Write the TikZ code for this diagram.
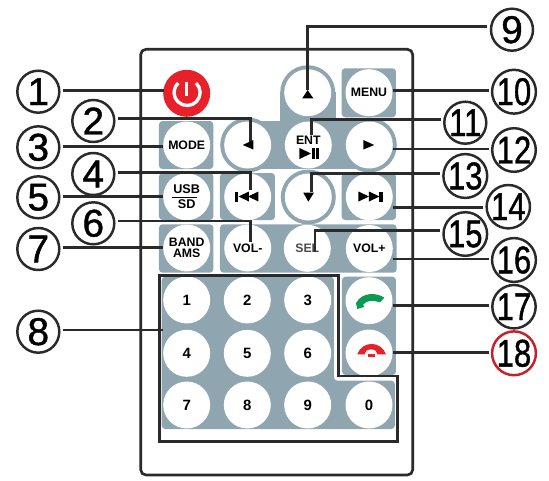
\documentclass[tikz,border=0pt]{standalone}
\usepackage{fontspec}
\setmainfont{Liberation Sans}
\newfontfamily\calloutfont[FakeBold=1.2]{Liberation Sans}
\definecolor{panelgrey}{HTML}{8FA5B0}
\definecolor{inkdark}{HTML}{2A2A2A}
\definecolor{powerred}{HTML}{E8202A}
\definecolor{ringred}{HTML}{C8202A}
\definecolor{callgreen}{HTML}{0A9A50}
\tikzset{
  leader/.style={inkdark, line width=1.45pt},
  callout/.style={circle, draw=inkdark, line width=1.4pt, minimum size=0.84cm, inner sep=0pt, outer sep=2pt, font=\calloutfont\fontsize{22}{22}\selectfont},
  panel/.style={fill=panelgrey, rounded corners=2pt},
  keybtn/.style={circle, fill=white, minimum size=0.94cm, inner sep=0pt, align=center, font=\fontsize{7}{6.2}\selectfont\bfseries},
  digitbtn/.style={keybtn, font=\fontsize{8.5}{8.5}\selectfont\bfseries},
  icon/.style={fill=black}
}
\begin{document}
\begin{tikzpicture}[x=0.02cm, y=-0.02cm]
  \useasboundingbox (0,0) rectangle (549,481);

  % Remote outline
  \draw[inkdark, line width=1.5pt, rounded corners=3pt] (140.7,49.3) rectangle (412.7,475);

  % Grey panels
  \fill[panel] (341.7,68.3) rectangle (396,117.3);
  \fill[panel] (159,121) rectangle (213.3,169);
  \fill[panel] (159,173) rectangle (213.3,220);
  \fill[panel] (220,173) rectangle (275,220);
  \fill[panel] (341.7,173) rectangle (396,220);
  \fill[panel] (159,224.3) rectangle (213.3,272.7);
  \fill[panel] (220,224.3) rectangle (396.7,272.7);
  \fill[panel] (342,276.7) rectangle (396,375);
  \fill[panel] (161.7,276.7) -- (334,276.7) -- (334,380.7) -- (394.9,380.7) -- (394.9,429) -- (161.7,429) -- cycle;

  % Direction pad
  \fill[panelgrey] (280,92) rectangle (336.2,121);
  \fill[panelgrey] (248,121) rectangle (369,169);
  \foreach \x/\y in {307.7/92.7, 247.7/145, 369.3/145, 308.3/197}
    \fill[panelgrey] (\x,\y) circle (27.5);

  % Buttons
  \node[keybtn, fill=powerred] (btnpower) at (186.7,93.3) {};
  \node[keybtn] (btnup) at (307.7,92.7) {};
  \node[keybtn] (btnmenu) at (369,92.7) {MENU};
  \node[keybtn] (btnmode) at (186.7,145) {MODE};
  \node[keybtn] (btnleft) at (247.7,145) {};
  \node[keybtn] (btnent) at (308.3,145) {};
  \node[keybtn] (btnright) at (369.3,145) {};
  \node[keybtn, font=\fontsize{7.2}{8.4}\selectfont\bfseries] (btnusb) at (186.7,196.7) {USB\\SD};
  \node[keybtn] (btnprev) at (247.7,196.7) {};
  \node[keybtn] (btndown) at (308.3,197) {};
  \node[keybtn] (btnnext) at (369.3,196.7) {};
  \node[keybtn, font=\fontsize{7}{6}\selectfont\bfseries] (btnband) at (186.7,248) {BAND\\AMS};
  \node[keybtn] (btnvolm) at (247.7,248) {VOL-};
  \node[keybtn, text=black!70] (btnsel) at (307.3,248.3) {SEL};
  \node[keybtn] (btnvolp) at (369.3,248.5) {VOL+};
  \node[keybtn] (btncall) at (369,300.7) {};
  \node[keybtn] (btnhang) at (369,353) {};
  \foreach \n/\x/\y in {1/186.7/300, 2/247.3/300, 3/307.7/300, 4/186.7/353.3, 5/247.3/353.3, 6/307.7/353.3, 7/186.7/405, 8/247.3/405, 9/307.7/405, 0/369/405}
    \node[digitbtn] (key\n) at (\x,\y) {\n};

  % Keypad outline
  \draw[inkdark, line width=1.5pt] (159.3,275.7) -- (338.3,275.7) -- (338.3,376) -- (397.3,376) -- (397.3,441.3) -- (159.3,441.3) -- cycle;

  % Callouts
  \foreach \n/\x/\y in {1/38.3/91.7, 2/93.3/121, 3/38.3/147.3, 4/93.3/174, 5/38.3/197.3, 6/93.3/223.3, 7/38.3/249, 8/38.3/331.7, 9/512/29.7}
    \node[callout] (call\n) at (\x,\y) {\n};
  \foreach \n/\x/\y in {10/514/91.7, 11/465.3/122.7, 12/514/150, 13/465.3/176, 14/508.3/206.7, 15/465.3/234, 16/514/260, 17/514/306.7}
    \node[callout] (call\n) at (\x,\y) {\scalebox{0.8}[1]{\n}};
  \node[callout, draw=ringred] (call18) at (514,353.3) {\scalebox{0.8}[1]{18}};

  % Leader ends
  \foreach \t/\x/\y in {a/164/90.7, b/250.7/143, c/162.7/146.7, d/250.7/190, e/162.7/196.7, f/250.7/241.7, g/162.7/247.7, h/162.7/330, i/307.7/90, j/392.7/90.7, k/311.7/135, l/392.7/149, m/311.7/191.7, n/392.7/207.3, o/315/251.7, p/392.7/259, q/392.7/305.7, r/392.7/352.3}
    \coordinate (end\t) at (\x,\y);

  % Straight leaders
  \foreach \n/\t in {1/a, 3/c, 5/e, 7/g, 8/h}
    \draw[leader] (call\n.east |- end\t) -- (end\t);
  \foreach \n/\t in {10/j, 12/l, 14/n, 16/p, 17/q, 18/r}
    \draw[leader] (call\n.west |- end\t) -- (end\t);

  % Elbow leaders
  \draw[leader] (call2.east |- 0,118.7) -| (endb);
  \draw[leader] (call4.east |- 0,172.3) -| (endd);
  \draw[leader] (call6.east |- 0,221) -| (endf);
  \draw[leader] (call9.west |- 0,26.3) -| (endi);
  \draw[leader] (call11.west |- 0,119.7) -| (endk);
  \draw[leader] (call13.west |- 0,173.3) -| (endm);
  \draw[leader] (call15.west |- 0,230.3) -| (endo);

  % Button icons
  \draw[white, line width=1.9pt] (196,83) arc[start angle=-47, end angle=227, radius=13];
  \draw[white, line width=1.9pt] (186.7,81.7) -- (186.7,96);
  \fill[icon] (307.7,90) -- (313.3,98.3) -- (302.3,98.3) -- cycle;
  \fill[icon] (242.7,145) -- (253.3,140) -- (253.3,149.5) -- cycle;
  \fill[icon] (374.3,145) -- (363.3,140) -- (363.3,149.5) -- cycle;
  \fill[icon] (308.3,201.7) -- (303.3,192.7) -- (314,192.7) -- cycle;
  \node[keybtn, fill=none, minimum size=0pt] (entlabel) at (308.3,140) {ENT};
  \fill[icon] (299.5,148) -- (311,153.5) -- (299.5,159) -- cycle;
  \fill[icon] (312,148) rectangle (315,159);
  \fill[icon] (316.5,148) rectangle (319.3,159);
  \fill[icon] (235,191.5) rectangle (238.3,201.5);
  \fill[icon] (249,191.5) -- (238.5,196.5) -- (249,201.5) -- cycle;
  \fill[icon] (258.5,191.5) -- (248,196.5) -- (258.5,201.5) -- cycle;
  \fill[icon] (358.5,191.5) -- (369,196.5) -- (358.5,201.5) -- cycle;
  \fill[icon] (369,191.5) -- (379.5,196.5) -- (369,201.5) -- cycle;
  \fill[icon] (379.5,191.5) rectangle (382.8,201.5);
  \fill[icon] (172.5,197) rectangle (197,198.2);

  % Handsets
  \fill[callgreen] (356,303.3) -- (357.3,309) -- (364,307) -- (363.3,304.3) .. controls (367,300.5) and (373,300) .. (377.3,301.7) -- (380,302.3) -- (384.3,297.7) .. controls (378,293) and (362,291) .. (356,303.3) -- cycle;
  \fill[powerred] (357.3,354.3) .. controls (362,340.5) and (381,340.5) .. (386,354.3) -- (377.5,354.3) -- (375.5,350.5) .. controls (372,349) and (370,349) .. (366.5,350.5) -- (364.5,354.3) -- cycle;
  \fill[powerred] (368.3,354) rectangle (375,356.5);
\end{tikzpicture}
\end{document}
